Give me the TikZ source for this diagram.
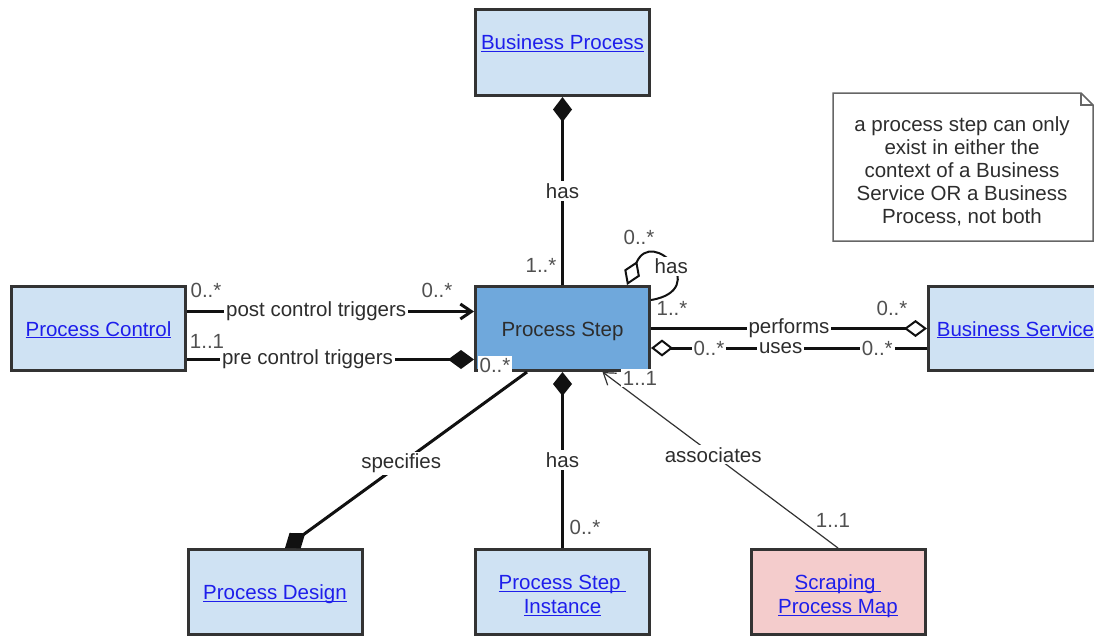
\documentclass[tikz,border=0pt]{standalone}
\usepackage{fontspec}
\setmainfont{Liberation Sans}
\usetikzlibrary{arrows.meta}

\definecolor{ClassBlue}{RGB}{207,226,243}
\definecolor{StepBlue}{RGB}{111,168,220}
\definecolor{MapPink}{RGB}{244,204,204}
\definecolor{LinkBlue}{RGB}{30,30,235}
\definecolor{BoxGray}{RGB}{51,51,51}
\definecolor{LineBlack}{RGB}{17,17,17}
\definecolor{TextGray}{RGB}{45,45,45}
\definecolor{MultGray}{RGB}{80,80,80}
\definecolor{NoteGray}{RGB}{102,102,102}

\newcommand{\LinkText}[1]{\underline{\smash{#1}}}

\begin{document}
\begin{tikzpicture}[x=1pt,y=-1pt,font=\fontsize{20.5}{24}\selectfont]
  \tikzset{ClassStyle/.style = {shape          = rectangle,
                                draw           = BoxGray,
                                line width     = 3pt,
                                fill           = ClassBlue,
                                text           = LinkBlue,
                                inner sep      = 0pt,
                                text height    = 15pt,
                                text depth     = 0pt,
                                minimum width  = 174pt,
                                minimum height = 84pt}}
  \tikzset{EdgeStyle/.style     = {line width = 3pt,
                                   draw       = LineBlack}}
  \tikzset{EdgeStyleThin/.style = {line width = 1.2pt,
                                   draw       = BoxGray}}
  \tikzset{LabelStyle/.style    = {fill      = white,
                                   text      = TextGray,
                                   inner sep = 2pt}}
  \tikzset{MultStyle/.style     = {text      = MultGray,
                                   inner sep = 2pt}}
  \tikzset{MultStyleCut/.style  = {MultStyle,
                                   fill = white}}
  \tikzset{NoteStyle/.style     = {draw       = NoteGray,
                                   line width = 1.5pt}}

\useasboundingbox (0,0) rectangle (1094,637);
\clip (0,0) rectangle (1094,637);

\coordinate (BPc) at (562.5,52.5);
\coordinate (PCc) at (98.5,328.5);
\coordinate (PSc) at (562.5,328.5);
\coordinate (BSc) at (1015.5,328.5);
\coordinate (PDc) at (275,592);
\coordinate (PIc) at (562.5,592);
\coordinate (SMc) at (838,592);

\draw (BPc) node[ClassStyle, minimum height=86pt, text depth=21pt] (BP) {\LinkText{Business Process}};
\draw (PCc) node[ClassStyle] (PC) {\LinkText{Process Control}};
\draw (PSc) node[ClassStyle, fill=StepBlue, text=TextGray] (PS) {Process Step};
\draw (BSc) node[ClassStyle] (BS) {\LinkText{Business Service}};
\draw (PDc) node[ClassStyle, minimum height=85pt] (PD) {\LinkText{Process Design}};
\draw (PIc) node[ClassStyle, minimum height=85pt, align=center, text height=43pt] (PI) {\LinkText{Process Step\ }\\\LinkText{Instance}};
\draw (SMc) node[ClassStyle, minimum height=85pt, align=center, text height=43pt, fill=MapPink] (SM) {\LinkText{Scraping\ }\\\LinkText{Process Map}};

% note
\draw[NoteStyle] (833,93) -- (1081,93) -- (1093,105) -- (1093,241) -- (833,241) -- cycle;
\draw[NoteStyle] (1081,93) -- (1081,105) -- (1093,105);
\node[align=center, text=TextGray, font=\fontsize{20.5}{23}\selectfont] (Note) at (962,171)
  {a process step can only\\exist in either the\\context of a Business\\Service OR a Business\\Process, not both};

\draw[EdgeStyle, -{Diamond[length=25pt, width=19pt]}] (PS.north) -- node[LabelStyle] (hasBP) {has} (BP.south);
\draw[EdgeStyle, line width=2pt, {Diamond[open, length=26pt, width=17pt]}-] ([xshift=64.5pt]PS.north)
  .. controls (652,226) and (712,290) .. node[LabelStyle] (hasLoop) {has} ([yshift=28.5pt]PS.east);
\draw[EdgeStyle, -{Straight Barb[length=11pt, width=15pt]}] ([yshift=17pt]PC.east) -- node[LabelStyle, pos=0.45] (postCT) {post control triggers} ([yshift=17pt]PS.west);
\draw[EdgeStyle, -{Diamond[length=26pt, width=19pt]}] ([yshift=-31pt]PC.east) -- node[LabelStyle, pos=0.42] (preCT) {pre control triggers} ([yshift=-31pt]PS.west);
\draw[EdgeStyle, -{Diamond[open, length=23pt, width=17pt, line width=2pt]}] (PS.east) -- node[LabelStyle] (perf) {performs} (BS.west);
\draw[EdgeStyle, {Diamond[open, length=22pt, width=17pt, line width=2pt]}-] ([yshift=-19.5pt]PS.east)
  -- node[MultStyleCut, pos=0.21] (usesA) {0..*}
     node[LabelStyle, pos=0.47] (uses) {uses}
     node[MultStyleCut, pos=0.82] (usesB) {0..*} ([yshift=-19.5pt]BS.west);
\draw[EdgeStyle, -{Diamond[length=25pt, width=19pt]}] ([xshift=-35.5pt]PS.south) -- node[LabelStyle, pos=0.52] (spec) {specifies} ([xshift=10pt]PD.north);
\draw[EdgeStyle, {Diamond[length=24pt, width=19pt]}-] (PS.south) -- node[LabelStyle] (hasPI) {has} (PI.north);
\draw[EdgeStyleThin, -{Straight Barb[length=11pt, width=15pt]}] (SM.north) -- node[LabelStyle, pos=0.53] (assoc) {associates} ([xshift=40pt]PS.south);

% multiplicities
\node[MultStyle] (mBP) at (541,265) {1..*};
\node[MultStyle] (mLoopA) at (639,237) {0..*};
\node[MultStyle] (mLoopB) at (672,308) {1..*};
\node[MultStyle] (mPostA) at (206,290) {0..*};
\node[MultStyle] (mPostB) at (437,290) {0..*};
\node[MultStyle] (mPreA) at (207,341) {1..1};
\node[MultStyleCut] (mPreB) at (495,365) {0..*};
\node[MultStyle] (mPerf) at (892,308) {0..*};
\node[MultStyle] (mPI) at (585,527) {0..*};
\node[MultStyleCut] (mAssA) at (640,378) {1..1};
\node[MultStyleCut] (mAssB) at (833,520) {1..1};

\end{tikzpicture}
\end{document}
